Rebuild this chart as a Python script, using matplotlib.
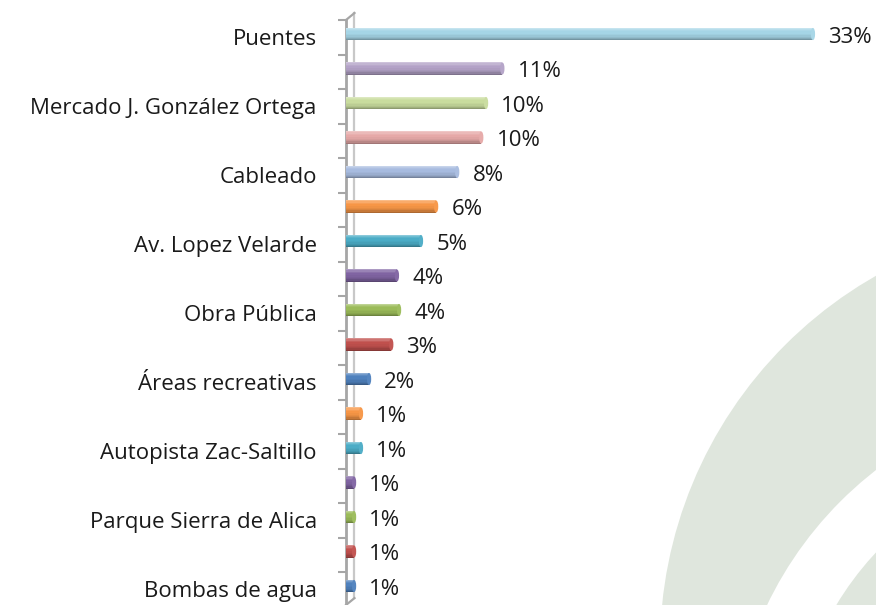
import matplotlib
matplotlib.use("Agg")
import matplotlib.pyplot as plt
import matplotlib.colors as mcolors
from matplotlib.patches import Circle, Ellipse
import numpy as np

# data (top to bottom); only every other category is named on the axis
categories = ["Puentes", "", "Mercado J. González Ortega", "", "Cableado", "",
              "Av. Lopez Velarde", "", "Obra Pública", "", "Áreas recreativas", "",
              "Autopista Zac-Saltillo", "", "Parque Sierra de Alica", "", "Bombas de agua"]
values = [33.0, 11.05, 9.9, 9.56, 7.86, 6.37, 5.3, 3.6, 3.75, 3.2, 1.63,
          1.06, 1.06, 0.57, 0.57, 0.57, 0.57]
pct_labels = ["33%", "11%", "10%", "10%", "8%", "6%", "5%", "4%", "4%", "3%", "2%",
              "1%", "1%", "1%", "1%", "1%", "1%"]
colors = ['#a5d5e6', '#b3a2c7', '#c9dc9e', '#e6a9a8', '#a7bbdf', '#f79646',
          '#4bacc6', '#8064a2', '#9bbb59', '#c0504d', '#4f81bd', '#f79646',
          '#4bacc6', '#8064a2', '#9bbb59', '#c0504d', '#4f81bd']

plt.rcParams['font.family'] = ['Open Sans', 'DejaVu Sans']

W, H = 876, 605
fig = plt.figure(figsize=(W / 100, H / 100), dpi=100)

# faint watermark arcs in the background
bg = fig.add_axes([0, 0, 1, 1], zorder=0)
bg.set_xlim(0, W)
bg.set_ylim(H, 0)
bg.axis("off")
band = "#dfe6dd"
bg.add_patch(Circle((1087, 647), 427, fc=band, ec="none"))
bg.add_patch(Circle((1107, 768), 377, fc="white", ec="none"))
bg.add_patch(Circle((1107, 768), 316, fc=band, ec="none"))
bg.add_patch(Circle((1107, 768), 250, fc="white", ec="none"))

# main chart
ax = fig.add_axes([346 / W, 0, 1 - 346 / W, 1 - 13 / H], zorder=1)
ax.patch.set_alpha(0)

n = len(values)
y = np.arange(n)
ax.set_xlim(0, 530 / 14.15)
ax.set_ylim(16.55, -0.609)

wall = "#a6a6a6"
back_x = 0.6
# back wall line and top/bottom bevel
ax.plot([back_x, back_x], [-0.609, 16.35], color="#c8c8c8", lw=1.6, zorder=1, clip_on=False)
ax.plot([0, back_x], [-0.406, -0.609], color=wall, lw=1.6, zorder=1, clip_on=False)
ax.plot([0, back_x], [16.55, 16.35], color=wall, lw=1.6, zorder=1, clip_on=False)

# cylinder-like bars built from thin horizontal strips (light top -> dark bottom)
bar_h = 0.37
shade = [1.35, 1.2, 1.08, 1.0, 1.0, 0.97, 0.93, 0.88, 0.8, 0.7]
strip = bar_h / len(shade)


def tone(rgb, k):
    if k >= 1:
        return tuple(rgb + (1 - rgb) * (k - 1))
    return tuple(rgb * k)


for i, (v, c) in enumerate(zip(values, colors)):
    base = np.array(mcolors.to_rgb(c))
    for j, k in enumerate(shade):
        yc = i - bar_h / 2 + strip * (j + 0.5)
        ax.barh(yc, v, height=strip * 1.05, color=tone(base, k), linewidth=0, zorder=3)
    # rounded cap at the end of the cylinder
    ax.add_patch(Ellipse((v, i), 0.3, bar_h * 0.95, fc=tone(base, 1.04),
                         ec="none", zorder=4))
    ax.annotate(pct_labels[i], (v, i), xytext=(11, -2.5), textcoords="offset points",
                va="center", ha="left", fontsize=16, color="#1a1a1a", zorder=5)

# axis styling
for s in ["top", "right", "bottom"]:
    ax.spines[s].set_visible(False)
ax.spines["left"].set_color(wall)
ax.spines["left"].set_linewidth(2)
ax.spines["left"].set_bounds(-0.406, 16.55)
ax.set_xticks([])

ax.set_yticks(y + 0.1)
ax.set_yticklabels(categories, fontsize=16, color="#1a1a1a")
ax.tick_params(axis="y", which="major", length=0, pad=21)
ax.set_yticks(y - 0.406, minor=True)
ax.tick_params(axis="y", which="minor", length=6, width=1.5, color=wall)

fig.savefig("out.png", dpi=100, facecolor="white")
